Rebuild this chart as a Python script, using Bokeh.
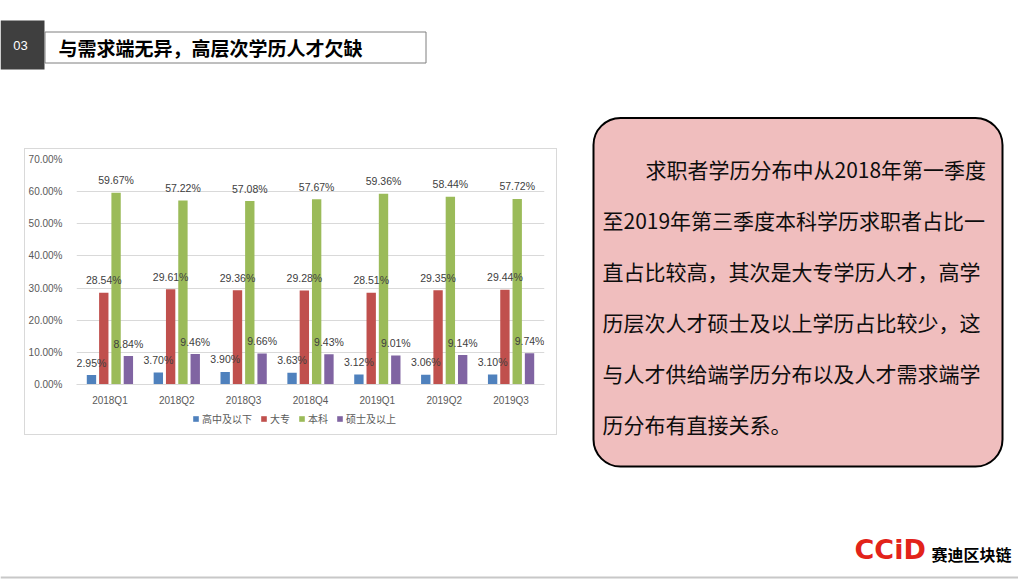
from bokeh.plotting import figure
from bokeh.models import (ColumnDataSource, FactorRange, Range1d, Legend, LegendItem,
                          FixedTicker, PrintfTickFormatter, Spacer)
from bokeh.layouts import row, column
from bokeh.transform import dodge
from bokeh.core.properties import value
from bokeh.embed import file_html
from bokeh.resources import INLINE

# ---------------- data ----------------
quarters = ["2018Q1", "2018Q2", "2018Q3", "2018Q4", "2019Q1", "2019Q2", "2019Q3"]
high_school = [2.95, 3.70, 3.90, 3.63, 3.12, 3.06, 3.10]      # 高中及以下
junior_college = [28.54, 29.61, 29.36, 29.28, 28.51, 29.35, 29.44]  # 大专
bachelor = [59.67, 57.22, 57.08, 57.67, 59.36, 58.44, 57.72]   # 本科
master_plus = [8.84, 9.46, 9.66, 9.43, 9.01, 9.14, 9.74]       # 硕士及以上
series_names = ["高中及以下", "大专", "本科", "硕士及以上"]
y_ticks = [0, 10, 20, 30, 40, 50, 60, 70]

section_no = "03"
title_text = "与需求端无异，高层次学历人才欠缺"
body_lines = [
    "求职者学历分布中从2018年第一季度",
    "至2019年第三季度本科学历求职者占比一",
    "直占比较高，其次是大专学历人才，高学",
    "历层次人才硕士及以上学历占比较少，这",
    "与人才供给端学历分布以及人才需求端学",
    "历分布有直接关系。",
]
logo_mark = "CCiD"
logo_name = "赛迪区块链"

# ---------------- styles ----------------
colors = ["#4F81BD", "#C0504D", "#9BBB59", "#8064A2"]
offsets = [-0.276, -0.092, 0.092, 0.276]
CJK = "Noto Sans CJK SC"
LAT = "Liberation Sans"


def deco_fig(w, h, x0, y0):
    f = figure(width=w, height=h, x_range=Range1d(x0, x0 + w),
               y_range=Range1d(-(y0 + h), -y0), x_axis_type=None, y_axis_type=None,
               min_border=0, toolbar_location=None, output_backend="svg")
    f.outline_line_color = None
    f.grid.visible = False
    f.background_fill_color = "white"
    f.border_fill_color = "white"
    return f


# ---------------- header ----------------
hdr = deco_fig(1018, 115, 0, 0)
hdr.quad(left=[0], right=[44], top=[-20], bottom=[-69], fill_color="#3F3F3F", line_color=None)
hdr.quad(left=[44.5], right=[425.5], top=[-31.5], bottom=[-62.5], fill_color=None,
         line_color="#7F7F7F", line_width=1)
hdr.text(x=[20], y=[-45], text=[section_no], text_color="white", text_font=value(LAT),
         text_font_size="13px", text_align="center", text_baseline="middle")
hdr.text(x=[58], y=[-47], text=[title_text], text_color="black", text_font=value(CJK),
         text_font_size="19px", text_font_style="bold", text_align="left",
         text_baseline="middle")

# ---------------- chart ----------------
src = ColumnDataSource(dict(
    quarter=quarters,
    s0=high_school, s1=junior_college, s2=bachelor, s3=master_plus,
    l0=[f"{v:.2f}%" for v in high_school],
    l1=[f"{v:.2f}%" for v in junior_college],
    l2=[f"{v:.2f}%" for v in bachelor],
    l3=[f"{v:.2f}%" for v in master_plus],
))

p = figure(x_range=FactorRange(*quarters, range_padding=0), y_range=Range1d(0, 70),
           width=531, height=263, min_border_left=47, min_border_right=12,
           min_border_top=10, min_border_bottom=28,
           toolbar_location=None, output_backend="svg")
p.outline_line_color = None
p.background_fill_color = "white"
p.xgrid.visible = False
p.ygrid.grid_line_color = "#D9D9D9"
p.yaxis.ticker = FixedTicker(ticks=y_ticks)
p.yaxis.formatter = PrintfTickFormatter(format="%.2f%%")
p.yaxis.axis_line_color = None
p.yaxis.major_tick_line_color = None
p.yaxis.minor_tick_line_color = None
p.yaxis.major_label_standoff = 8
p.xaxis.axis_line_color = "#D9D9D9"
p.xaxis.major_tick_line_color = None
p.xaxis.minor_tick_line_color = None
p.xaxis.major_label_standoff = 4
for ax in (p.xaxis, p.yaxis):
    ax.major_label_text_font = LAT
    ax.major_label_text_font_size = "10px"
    ax.major_label_text_color = "#595959"

for i in range(4):
    p.vbar(x=dodge("quarter", offsets[i], range=p.x_range), top=f"s{i}", width=0.14,
           source=src, fill_color=colors[i], line_color=None)
for i in range(4):
    p.text(x=dodge("quarter", offsets[i], range=p.x_range), y=f"s{i}", text=f"l{i}",
           source=src, text_font=value(LAT), text_font_size="10.5px", text_color="#404040",
           text_align="center", text_baseline="middle", y_offset=-12.5)

# legend strip (swatches keyed to the same series colours, kept outside the visible range)
lg = figure(width=531, height=16, x_range=Range1d(0, 1), y_range=Range1d(0, 1),
            x_axis_type=None, y_axis_type=None, min_border=0,
            toolbar_location=None, output_backend="svg")
lg.outline_line_color = None
lg.grid.visible = False
items = []
for i in range(4):
    r = lg.vbar(x=[-5], top=[0], width=0.1, fill_color=colors[i], line_color=None)
    items.append(LegendItem(label=series_names[i], renderers=[r]))
legend = Legend(items=items, orientation="horizontal", location=(116, 2))
legend.border_line_color = None
legend.background_fill_alpha = 0
legend.glyph_width = 7
legend.glyph_height = 7
legend.label_height = 12
legend.label_standoff = 3
legend.spacing = 8
legend.padding = 0
legend.margin = 0
legend.label_text_font = CJK
legend.label_text_font_size = "10px"
legend.label_text_color = "#595959"
lg.add_layout(legend, "center")

chart_box = column(p, lg, Spacer(width=531, height=6),
                   styles={"border": "1px solid #D9D9D9"})

# ---------------- text box ----------------
tb = deco_fig(416, 355, 590, 115)
tb.quad(left=[593], right=[1002], top=[-117.5], bottom=[-466], fill_color="#F0BEBE",
        line_color="black", line_width=2, border_radius=27)
line_x = [645] + [602] * (len(body_lines) - 1)
line_y = [-(168 + 51 * i) for i in range(len(body_lines))]
tb.text(x=line_x, y=line_y, text=body_lines, text_font=value(CJK), text_font_size="21px",
        text_color="#0D0D0D", text_align="left", text_baseline="middle")

# ---------------- footer ----------------
ft = deco_fig(1018, 109, 0, 470)
ft.text(x=[854], y=[-549], text=[logo_mark], text_font=value("DejaVu Sans"),
        text_font_size="27px", text_font_style="bold", text_color="#E2231A",
        text_align="left", text_baseline="middle")
ft.text(x=[931], y=[-553], text=[logo_name], text_font=value(CJK), text_font_size="16px",
        text_font_style="bold", text_color="black", text_align="left",
        text_baseline="middle")
ft.segment(x0=[0], x1=[1018], y0=[-577], y1=[-577], line_color="#C8C8C8", line_width=2)

layout = column(
    hdr,
    row(Spacer(width=24, height=355),
        column(Spacer(width=533, height=33), chart_box, Spacer(width=533, height=35)),
        Spacer(width=33, height=355), tb, Spacer(width=12, height=355)),
    ft,
)

open("out.html", "w").write(file_html(layout, INLINE))
